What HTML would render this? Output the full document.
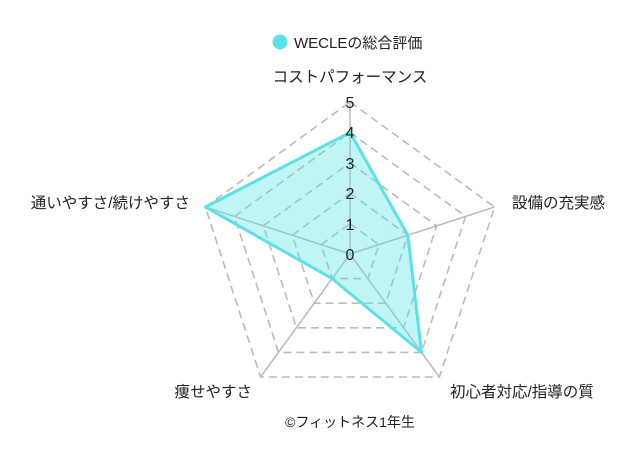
<!DOCTYPE html>
<html><head><meta charset="utf-8"><style>
html,body{margin:0;padding:0;background:#fff;}
svg{display:block;font-family:"Liberation Sans","Noto Sans CJK JP",sans-serif;}
</style></head><body>
<svg width="635" height="459" viewBox="0 0 635 459" xmlns="http://www.w3.org/2000/svg">
<rect width="635" height="459" fill="#fff"/>
<circle cx="280" cy="42" r="7.5" fill="#5ce1e6"/>
<text x="294" y="48" font-size="15" fill="#222">WECLEの総合評価</text>
<g fill="none" stroke="#bbb" stroke-width="1.5">
<line x1="350" y1="254" x2="350" y2="102"/>
<line x1="350" y1="254" x2="494.6" y2="207"/>
<line x1="350" y1="254" x2="439.4" y2="377"/>
<line x1="350" y1="254" x2="260.6" y2="377"/>
<line x1="350" y1="254" x2="205.4" y2="207"/>
</g>
<g fill="none" stroke="#bbb" stroke-width="1.6" stroke-dasharray="8,5">
<polygon points="350,223.6 378.9,244.6 367.9,278.6 332.1,278.6 321.1,244.6"/>
<polygon points="350,193.2 407.8,235.2 385.7,303.2 314.3,303.2 292.2,235.2"/>
<polygon points="350,162.8 436.7,225.8 403.6,327.8 296.4,327.8 263.3,225.8"/>
<polygon points="350,132.4 465.6,216.4 421.5,352.4 278.5,352.4 234.4,216.4"/>
<polygon points="350,102 494.6,207 439.4,377 260.6,377 205.4,207"/>
</g>
<polygon points="350,132.4 407.8,235.2 421.5,352.4 332.1,278.6 205.4,207" fill="rgba(92,225,230,0.38)" stroke="#5ce1e6" stroke-width="3" stroke-linejoin="round"/>
<g font-size="16" fill="#222" text-anchor="middle">
<text x="350" y="108">5</text>
<text x="350" y="138">4</text>
<text x="350" y="169">3</text>
<text x="350" y="199">2</text>
<text x="350" y="230">1</text>
<text x="350" y="260">0</text>
</g>
<g font-size="15.5" fill="#222">
<text x="350" y="82" text-anchor="middle">コストパフォーマンス</text>
<text x="512" y="208">設備の充実感</text>
<text x="450" y="397">初心者対応/指導の質</text>
<text x="252" y="397" text-anchor="end">痩せやすさ</text>
<text x="190" y="208" text-anchor="end">通いやすさ/続けやすさ</text>
<text x="350" y="427" text-anchor="middle" font-size="14">©フィットネス1年生</text>
</g>
</svg>
</body></html>
